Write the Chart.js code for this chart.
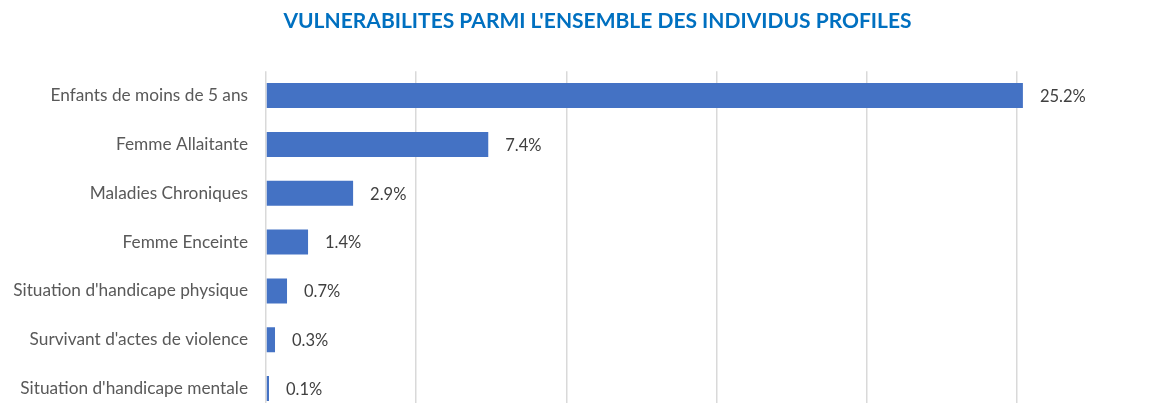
<!DOCTYPE html>
<html>
<head>
<meta charset="utf-8">
<script src="https://cdn.jsdelivr.net/npm/chart.js@4"></script>
<style>
    html, body { margin: 0; padding: 0; background: #fff; overflow: hidden; }
    canvas { display: block; }
</style>
</head>
<body>
<canvas id="chart" width="1195" height="413"></canvas>
<script>
// 見出しとデータ
const titleText = "VULNERABILITES PARMI L'ENSEMBLE DES INDIVIDUS PROFILES";
const categories = [
    'Enfants de moins de 5 ans',
    'Femme Allaitante',
    'Maladies Chroniques',
    'Femme Enceinte',
    "Situation d'handicape physique",
    "Survivant d'actes de violence",
    "Situation d'handicape mentale"
];
const values = [25.2, 7.4, 2.9, 1.4, 0.7, 0.3, 0.1];

// バー右側に値ラベルを描く
const valueLabels = {
    id: 'valueLabels',
    afterDatasetsDraw(chart) {
        const ctx = chart.ctx;
        const meta = chart.getDatasetMeta(0);
        ctx.save();
        ctx.font = '16.5px Lato, "Open Sans", sans-serif';
        ctx.fillStyle = '#404040';
        ctx.textAlign = 'left';
        ctx.textBaseline = 'middle';
        meta.data.forEach((bar, i) => {
            ctx.fillText(values[i].toFixed(1) + '%', bar.x + 17, bar.y + 1);
        });
        ctx.restore();
    }
};

new Chart(document.getElementById('chart'), {
    type: 'bar',
    data: {
        labels: categories,
        datasets: [{
            data: values,
            backgroundColor: '#4472C4',
            borderWidth: 0,
            categoryPercentage: 1,
            barPercentage: 0.512
        }]
    },
    options: {
        indexAxis: 'y',
        responsive: false,
        devicePixelRatio: 1,
        animation: false,
        layout: { padding: 0 },
        plugins: {
            legend: { display: false },
            tooltip: { enabled: false },
            title: {
                display: true,
                text: titleText,
                color: '#0070C0',
                font: { family: 'Lato, "Open Sans", sans-serif', size: 21, weight: 'bold', lineHeight: 1.2 },
                padding: { top: 9, bottom: 37 }
            }
        },
        scales: {
            x: {
                min: 0,
                max: 30.93,
                afterFit: (scale) => { scale.height = 0; },
                ticks: { display: false, stepSize: 5, includeBounds: false },
                grid: { color: '#D9D9D9', lineWidth: 1.5, drawTicks: false },
                border: { display: false }
            },
            y: {
                afterFit: (scale) => {
                    scale.width = 266;
                    scale.paddingTop = 0;
                    scale.paddingBottom = 0;
                },
                ticks: {
                    color: '#595959',
                    padding: 18,
                    font: { family: 'Lato, "Open Sans", sans-serif', size: 17.25 }
                },
                grid: { display: false, drawTicks: false },
                border: { display: false }
            }
        }
    },
    plugins: [valueLabels]
});
</script>
</body>
</html>
